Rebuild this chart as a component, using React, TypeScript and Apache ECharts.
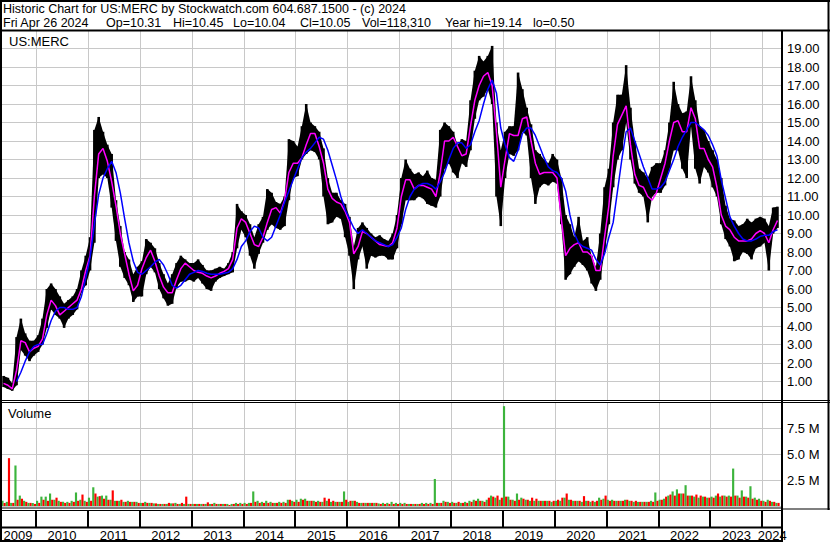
import { useEffect, useRef } from 'react';
import * as echarts from 'echarts';

// ---- time layout (fractional years) ----
const FIRST_YEAR = 2009;
const FIRST_MONTH = 5; // first monthly sample: May 2009
const X_MIN = 2009.306;
const X_MAX = 2024.379;

const yearLabels = ['2009', '2010', '2011', '2012', '2013', '2014', '2015', '2016', '2017', '2018', '2019', '2020', '2021', '2022', '2023', '2024'];
const yearBoundaries = [2010, 2011, 2012, 2013, 2014, 2015, 2016, 2017, 2018, 2019, 2020, 2021, 2022, 2023, 2024];

// ---- monthly high / low (USD) ----
const high = [
  1.3, 1.2, 0.9, 3.4, 4.4, 3.6, 3.2, 3.2, // 2009 May-Dec
  3.5, 4.4, 6.0, 6.3, 6.0, 5.6, 5.2, 5.4, 5.6, 6.0, 7.0, 7.8, // 2010
  8.8, 14.6, 15.3, 14.5, 13.8, 13.3, 10.8, 9.4, 8.0, 7.6, 6.8, 7.2, // 2011
  7.5, 8.7, 8.5, 8.2, 7.4, 6.8, 6.3, 6.8, 7.4, 7.8, 7.6, 7.4, // 2012
  7.4, 7.6, 7.3, 7.0, 7.0, 7.1, 7.2, 7.1, 7.4, 8.0, 10.6, 10.2, // 2013
  10.0, 9.5, 8.8, 9.5, 9.9, 11.4, 11.2, 10.7, 10.6, 11.0, 14.1, 14.0, // 2014
  13.7, 14.8, 16.0, 15.0, 14.8, 14.5, 13.6, 12.0, 11.2, 11.2, 10.8, 10.6, // 2015
  9.9, 8.3, 9.3, 9.6, 9.3, 9.0, 8.8, 8.9, 8.7, 8.6, 9.0, 10.0, // 2016
  12.0, 13.0, 12.5, 12.2, 12.3, 12.1, 12.4, 12.0, 11.9, 14.6, 15.0, 14.8, // 2017
  14.5, 13.8, 14.1, 14.0, 16.2, 17.8, 18.6, 18.3, 18.6, 19.14, 15.0, 13.5, // 2018
  14.5, 14.8, 14.8, 17.7, 16.8, 15.8, 14.9, 13.5, 13.3, 13.0, 12.8, 13.3, // 2019
  13.0, 12.0, 10.0, 9.5, 8.8, 9.9, 8.6, 8.8, 7.8, 7.2, 9.0, 11.5, // 2020
  12.5, 15.0, 16.5, 16.5, 18.1, 15.8, 14.0, 12.5, 12.3, 12.0, 12.6, 12.8, // 2021
  12.8, 13.5, 15.0, 17.2, 16.0, 15.5, 15.6, 17.5, 16.2, 14.8, 14.6, 14.0, // 2022
  13.5, 13.0, 12.0, 10.5, 9.8, 9.7, 9.4, 9.5, 9.8, 9.6, 9.8, 9.9, // 2023
  9.8, 9.4, 10.4, 10.45, // 2024 Jan-Apr
];
const low = [
  0.7, 0.6, 0.5, 0.8, 2.7, 2.4, 2.1, 2.4, // 2009
  2.6, 3.0, 3.9, 4.9, 4.6, 4.4, 3.9, 4.4, 4.6, 4.9, 5.8, 6.2, // 2010
  7.0, 8.5, 12.0, 12.2, 12.0, 10.4, 8.6, 7.2, 6.6, 6.2, 5.3, 5.6, // 2011
  5.6, 6.8, 7.2, 6.9, 6.0, 5.5, 5.1, 5.2, 6.1, 6.4, 6.4, 6.5, // 2012
  6.4, 6.6, 6.3, 6.0, 5.9, 6.4, 6.6, 6.7, 6.8, 6.9, 8.2, 9.2, // 2013
  8.8, 7.8, 7.1, 7.9, 8.5, 9.2, 9.5, 9.3, 9.2, 9.4, 10.8, 12.0, // 2014
  12.1, 13.0, 13.3, 13.5, 13.4, 13.0, 11.0, 9.5, 9.6, 9.9, 9.8, 8.8, // 2015
  7.8, 6.0, 7.6, 8.3, 7.1, 7.8, 7.7, 7.8, 7.8, 7.6, 7.6, 8.2, // 2016
  9.5, 10.8, 10.8, 10.8, 11.0, 10.9, 10.6, 10.5, 10.4, 11.0, 12.5, 12.8, // 2017
  12.3, 12.0, 12.8, 12.6, 13.5, 15.2, 16.2, 16.4, 16.8, 16.0, 11.0, 9.4, // 2018
  12.0, 13.3, 13.2, 13.5, 14.5, 14.3, 12.0, 10.6, 11.5, 11.7, 11.6, 11.8, // 2019
  11.7, 9.5, 6.5, 6.8, 7.2, 7.5, 7.3, 7.0, 6.3, 5.9, 6.5, 8.0, // 2020
  9.5, 11.5, 13.0, 13.5, 15.0, 13.0, 11.7, 11.2, 11.0, 9.6, 11.0, 11.2, // 2021
  11.2, 11.6, 12.5, 13.5, 13.5, 12.5, 12.0, 14.8, 12.5, 11.7, 12.6, 12.3, // 2022
  11.5, 11.0, 9.5, 8.7, 8.3, 7.5, 7.6, 8.0, 7.9, 7.6, 8.2, 8.3, // 2023
  8.5, 7.0, 9.0, 9.3, // 2024
];
// ---- moving averages ----
const maFast = [
  0.9, 0.8, 0.6, 1.6, 3.2, 3.1, 2.6, 2.8,
  2.9, 3.3, 4.6, 5.4, 5.1, 4.6, 4.8, 5.0, 5.2, 5.4, 6.0, 7.0,
  7.8, 11.0, 13.3, 13.6, 12.9, 11.8, 10.5, 9.0, 7.9, 6.8, 5.9, 6.2,
  7.1, 7.7, 8.1, 7.5, 6.7, 6.1, 5.8, 5.8, 6.5, 7.1, 7.4, 7.2,
  7.0, 6.9, 6.85, 6.7, 6.6, 6.7, 6.85, 6.95, 7.1, 7.6, 9.3, 9.8,
  9.6, 9.0, 8.4, 8.3, 8.8, 9.6, 10.3, 10.4, 10.1, 10.8, 12.3, 12.8,
  12.8, 13.1, 13.8, 14.4, 14.4, 13.7, 12.8, 11.4, 10.9, 10.7, 10.6, 10.2,
  9.6, 7.9, 8.3, 9.1, 9.0, 8.8, 8.6, 8.4, 8.35, 8.3, 8.5, 9.3,
  11.0, 11.9, 11.9, 11.4, 11.6, 11.6, 11.5, 11.4, 11.0, 12.3, 14.0, 14.0,
  14.2, 13.7, 13.2, 13.3, 14.8, 16.2, 17.0, 17.5, 17.7, 17.0, 14.5, 11.5,
  13.0, 14.4, 14.3, 14.3, 15.2, 15.3, 14.0, 12.8, 12.2, 12.3, 12.3, 12.3,
  12.0, 9.8, 7.8, 8.2, 8.4, 8.5, 8.0, 8.0, 7.8, 7.0, 7.0, 8.8,
  10.5, 13.2, 14.9, 15.4, 15.9, 13.8, 12.2, 11.6, 11.5, 11.0, 10.8, 11.2,
  12.0, 12.8, 14.0, 15.0, 15.1, 14.5, 14.5, 15.8, 15.2, 13.6, 13.6, 13.0,
  12.6, 11.5, 10.0, 9.4, 9.2, 8.8, 8.6, 8.6, 8.6, 8.7, 9.0, 9.15,
  9.0, 8.5, 9.2, 9.7,
];
const maSlow: (number | null)[] = [
  null, null, null, 1.0, 1.5, 2.1, 2.6, 2.9,
  3.0, 3.0, 3.6, 4.3, 4.8, 5.0, 5.0, 4.9, 4.9, 5.0, 5.6, 6.6,
  7.7, 9.5, 11.1, 12.0, 12.5, 12.9, 12.3, 11.2, 9.8, 8.5, 7.5, 6.9,
  6.8, 7.0, 7.2, 7.45, 7.6, 7.3, 6.8, 6.2, 6.05, 6.2, 6.5, 6.8,
  6.9, 7.0, 6.95, 6.85, 6.8, 6.8, 6.8, 6.85, 6.9, 7.1, 7.6, 8.3,
  8.6, 9.1, 9.4, 9.3, 8.8, 8.6, 8.8, 9.4, 10.0, 10.7, 11.3, 11.9,
  12.5, 13.1, 13.4, 13.6, 13.9, 14.2, 14.1, 13.5, 12.7, 11.9, 11.0, 10.3,
  9.8, 9.3, 9.0, 9.2, 9.0, 8.8, 8.6, 8.5, 8.4, 8.3, 8.4, 8.8,
  9.3, 10.3, 11.0, 11.4, 11.6, 11.7, 11.7, 11.6, 11.4, 11.8, 12.3, 13.0,
  13.6, 13.9, 13.9, 13.6, 13.8, 14.5, 15.1, 16.0, 16.8, 17.3, 16.6, 14.7,
  13.8, 13.1, 12.9, 13.5, 14.4, 14.7, 14.7, 14.3, 13.7, 13.1, 12.6, 12.4,
  12.3, 12.0, 11.3, 10.0, 9.0, 8.5, 8.3, 8.2, 8.1, 7.6, 7.3, 7.9,
  8.8, 9.6, 11.3, 13.0, 14.5, 14.7, 14.0, 13.3, 12.6, 12.0, 11.4, 11.4,
  11.5, 11.8, 12.4, 13.0, 13.7, 14.2, 14.6, 15.0, 15.0, 14.8, 14.6, 14.3,
  13.8, 13.2, 11.9, 10.9, 9.9, 9.4, 9.0, 8.7, 8.6, 8.6, 8.7, 8.85,
  8.9, 8.9, 9.1, 9.2,
];
// ---- volume, millions of shares (up-day and down-day spikes per month) ----
const volUp = [
  0.5, 0.4, 0.3, 3.9, 1.0, 0.5, 0.3, 0.3,
  0.5, 0.9, 0.9, 1.2, 0.6, 0.5, 0.4, 0.4, 0.5, 1.3, 0.6, 0.5,
  0.8, 1.8, 0.9, 1.0, 1.0, 0.6, 0.5, 0.5, 0.4, 0.5, 0.4, 0.4,
  0.3, 0.4, 0.3, 0.25, 0.2, 0.2, 0.2, 0.25, 0.3, 0.2, 0.2, 0.2,
  0.2, 0.2, 0.2, 0.2, 0.2, 0.3, 0.2, 0.2, 0.2, 0.2, 0.3, 0.3,
  0.3, 0.3, 1.4, 0.5, 0.4, 0.5, 0.4, 0.3, 0.4, 0.4, 0.6, 0.5,
  0.6, 0.7, 0.7, 0.5, 0.5, 0.5, 0.4, 0.5, 0.4, 0.4, 0.4, 1.4,
  0.4, 0.5, 0.4, 0.3, 0.3, 0.3, 0.3, 0.25, 0.3, 0.3, 0.4, 0.3,
  0.3, 0.3, 0.2, 0.2, 0.2, 0.3, 0.3, 0.3, 2.6, 0.3, 0.5, 0.4,
  0.4, 0.3, 0.3, 0.4, 0.5, 0.6, 0.7, 0.5, 0.6, 1.0, 0.8, 0.6,
  9.6, 0.9, 0.6, 1.2, 0.8, 0.6, 0.5, 0.5, 0.5, 0.5, 0.5, 0.4,
  0.5, 0.5, 0.8, 0.6, 0.5, 0.5, 0.4, 0.5, 0.4, 0.4, 0.8, 0.7,
  0.6, 0.6, 0.5, 0.5, 0.6, 0.5, 0.4, 0.4, 0.4, 0.4, 0.5, 1.3,
  0.6, 0.7, 1.0, 1.4, 1.6, 1.2, 2.0, 1.0, 0.9, 0.8, 0.9, 0.8,
  0.9, 1.0, 0.9, 1.0, 1.0, 3.6, 1.0, 1.5, 0.9, 1.9, 0.8, 0.7,
  0.5, 0.6, 0.4, 0.3,
];
const volDown = [
  0.3, 4.6, 0.3, 0.6, 0.7, 0.4, 0.3, 0.2,
  0.3, 0.6, 0.5, 0.6, 0.8, 0.4, 0.3, 0.3, 0.4, 0.5, 1.1, 0.4,
  0.5, 1.2, 0.95, 0.7, 0.6, 1.5, 0.5, 0.6, 0.4, 0.4, 0.4, 0.3,
  0.3, 0.3, 0.3, 0.25, 0.2, 0.2, 0.3, 0.25, 0.2, 0.3, 0.9, 0.2,
  0.2, 0.2, 0.2, 0.35, 0.2, 0.2, 0.2, 0.2, 0.1, 0.2, 0.2, 0.2,
  0.2, 0.3, 0.4, 0.3, 0.3, 0.3, 0.3, 0.3, 0.3, 0.3, 0.6, 0.4,
  0.4, 0.6, 0.5, 0.5, 0.4, 0.4, 0.8, 0.7, 0.5, 0.4, 0.4, 0.6,
  0.5, 0.5, 0.3, 0.3, 0.3, 0.3, 0.3, 0.2, 0.2, 0.2, 0.2, 0.2,
  0.2, 0.2, 0.2, 0.2, 0.2, 0.2, 0.2, 0.2, 0.3, 0.3, 0.4, 0.3,
  0.3, 0.4, 0.3, 0.3, 0.4, 0.5, 0.5, 0.4, 0.8, 0.9, 1.0, 0.8,
  0.9, 0.6, 0.5, 0.6, 0.7, 0.6, 0.8, 0.7, 0.5, 0.5, 0.5, 0.5,
  0.6, 0.8, 1.2, 0.6, 0.5, 0.5, 0.95, 0.5, 0.5, 0.5, 0.6, 1.0,
  0.5, 0.5, 0.5, 0.5, 0.6, 0.5, 0.5, 0.4, 0.4, 0.4, 0.4, 0.5,
  0.6, 0.9, 1.1, 1.0, 1.2, 1.2, 1.0, 1.0, 1.1, 1.0, 0.9, 0.8,
  0.8, 1.2, 1.0, 0.9, 0.9, 1.0, 0.8, 0.9, 0.8, 0.7, 0.6, 0.5,
  0.4, 0.5, 0.4, 0.3,
];

const headerLine1 = 'Historic Chart for US:MERC by Stockwatch.com 604.687.1500 - (c) 2024';
const headerLine2: [string, number][] = [
  ['Fri Apr 26 2024', 3], ['Op=10.31', 106], ['Hi=10.45', 173], ['Lo=10.04', 233],
  ['Cl=10.05', 300], ['Vol=118,310', 362], ['Year hi=19.14', 445], ['lo=0.50', 533],
];

const FONT = '"Liberation Sans", Arial, sans-serif';

function monthValue(i: number): number {
  const m = FIRST_MONTH - 1 + i;
  return FIRST_YEAR + Math.floor(m / 12) + ((m % 12) + 0.5) / 12;
}

function vLineItem(color: string, width: number) {
  return (params: any, api: any) => {
    const cs = params.coordSys;
    const p = api.coord([api.value(0), 0]);
    const x = Math.round(p[0]) + (width % 2 ? 0.5 : 0);
    return {
      type: 'line',
      shape: { x1: x, y1: cs.y, x2: x, y2: cs.y + cs.height },
      style: { stroke: color, lineWidth: width },
    };
  };
}

function hLine(x1: number, y: number, x2: number, w: number) {
  return { type: 'line', silent: true, z: 100, shape: { x1, y1: y, x2, y2: y }, style: { stroke: '#000', lineWidth: w } };
}
function vLine(x: number, y1: number, y2: number, w: number) {
  return { type: 'line', silent: true, z: 100, shape: { x1: x, y1, x2: x, y2 }, style: { stroke: '#000', lineWidth: w } };
}
function label(text: string, x: number, y: number, size = 13) {
  return {
    type: 'text', silent: true, z: 100, x, y,
    style: { text, fill: '#000', font: `${size}px ${FONT}`, align: 'left', verticalAlign: 'top', textAlign: 'left', textVerticalAlign: 'top' },
  };
}

export default function App() {
  const ref = useRef<HTMLDivElement>(null);
  useEffect(() => {
    if (!ref.current) return;
    const chart = echarts.init(ref.current, undefined, { renderer: 'svg' });

    const priceBars = high.map((h, i) => [monthValue(i), low[i], h]);
    const fastLine = maFast.map((v, i) => [monthValue(i), v]);
    const slowLine = maSlow.map((v, i) => (v == null ? null : [monthValue(i), v])).filter((d) => d != null);
    const volBars = volUp.map((u, i) => [monthValue(i), u, volDown[i]]);
    const boundaryData = yearBoundaries.map((y) => [y, 0]);
    const yearData = yearLabels.map((y) => [Number(y), 0]);
    const last = priceBars.length - 1;

    const xAxisBase = (gridIndex: number) => ({
      type: 'value', gridIndex, min: X_MIN, max: X_MAX, show: false, splitLine: { show: false },
    });

    const option: any = {
      animation: false,
      backgroundColor: '#fff',
      grid: [
        { left: 0, top: 30, width: 782, height: 370 },
        { left: 0, top: 402, width: 782, height: 104 },
        { left: 0, top: 510, width: 782, height: 17 },
        { left: 0, top: 528, width: 782, height: 13 },
      ],
      xAxis: [xAxisBase(0), xAxisBase(1), xAxisBase(2), xAxisBase(3)],
      yAxis: [
        {
          type: 'value', gridIndex: 0, min: 0, max: 20, interval: 1, position: 'right',
          axisLine: { show: false }, axisTick: { show: false },
          axisLabel: {
            margin: 5, fontSize: 13, fontFamily: FONT, color: '#000',
            formatter: (v: number) => (v >= 1 && v <= 19 ? v.toFixed(2) : ''),
          },
          splitLine: { lineStyle: { color: '#c8c8c8', width: 1 } },
        },
        {
          type: 'value', gridIndex: 1, min: 0, max: 10, interval: 2.5, position: 'right',
          axisLine: { show: false }, axisTick: { show: false },
          axisLabel: {
            margin: 5, fontSize: 13, fontFamily: FONT, color: '#000',
            formatter: (v: number) => (v > 0 && v < 10 ? v.toFixed(1) + ' M' : ''),
          },
          splitLine: { lineStyle: { color: '#c8c8c8', width: 1 } },
        },
        { type: 'value', gridIndex: 2, min: 0, max: 1, show: false, splitLine: { show: false } },
        { type: 'value', gridIndex: 3, min: 0, max: 1, show: false, splitLine: { show: false } },
      ],
      series: [
        // year gridlines
        { type: 'custom', xAxisIndex: 0, yAxisIndex: 0, z: 1, silent: true, data: boundaryData, encode: { x: 0, y: 1 }, renderItem: vLineItem('#c8c8c8', 1) },
        { type: 'custom', xAxisIndex: 1, yAxisIndex: 1, z: 1, silent: true, data: boundaryData, encode: { x: 0, y: 1 }, renderItem: vLineItem('#c8c8c8', 1) },
        { type: 'custom', xAxisIndex: 2, yAxisIndex: 2, z: 1, silent: true, data: boundaryData, encode: { x: 0, y: 1 }, renderItem: vLineItem('#000', 2) },
        // price range band (monthly high/low joined into a ribbon)
        {
          type: 'custom', name: 'Price', xAxisIndex: 0, yAxisIndex: 0, z: 2, clip: true,
          data: priceBars, encode: { x: 0, y: [1, 2] },
          renderItem: (params: any, api: any) => {
            const i = params.dataIndexInside;
            const x = api.value(0);
            const half = api.size([1 / 24, 0])[0];
            const a = api.coord([x, api.value(2)]);
            const b = api.coord([x, api.value(1)]);
            const children: any[] = [
              // the month's own range bar
              { type: 'rect', shape: { x: a[0] - half * 0.6, y: a[1], width: half * 1.2, height: Math.max(1, b[1] - a[1]) }, style: { fill: '#000' } },
            ];
            if (i < last) {
              const nx = api.value(0, i + 1);
              const c = api.coord([nx, api.value(2, i + 1)]);
              const d = api.coord([nx, api.value(1, i + 1)]);
              const mt = (a[1] + c[1]) / 2;
              const mb = (b[1] + d[1]) / 2;
              const lowTop = Math.max(a[1], c[1]);
              const highBot = Math.min(b[1], d[1]);
              children.push({
                type: 'polygon',
                shape: { points: [[a[0], a[1]], [c[0], c[1]], [c[0], d[1]], [a[0], b[1]]] },
                style: { fill: '#000' },
              });
              void mt; void mb; void lowTop; void highBot;
            }
            return { type: 'group', children };
          },
        },
        {
          type: 'line', name: 'MA fast', xAxisIndex: 0, yAxisIndex: 0, z: 3, data: fastLine,
          showSymbol: false, symbol: 'none', lineStyle: { color: '#ff00ff', width: 1.5 },
        },
        {
          type: 'line', name: 'MA slow', xAxisIndex: 0, yAxisIndex: 0, z: 4, data: slowLine,
          showSymbol: false, symbol: 'none', lineStyle: { color: '#0000ff', width: 1.5 },
        },
        // volume
        {
          type: 'custom', name: 'Volume', xAxisIndex: 1, yAxisIndex: 1, z: 2, clip: true,
          data: volBars, encode: { x: 0, y: [1, 2] },
          renderItem: (params: any, api: any) => {
            const x = api.value(0);
            const base = api.coord([x, 0]);
            const up = api.coord([x, api.value(1)]);
            const dn = api.coord([x, api.value(2)]);
            const w = api.size([1 / 12, 0])[0] / 2;
            return {
              type: 'group',
              children: [
                { type: 'rect', shape: { x: base[0] - w, y: up[1], width: w, height: base[1] - up[1] }, style: { fill: '#3cb43c' } },
                { type: 'rect', shape: { x: base[0], y: dn[1], width: w, height: base[1] - dn[1] }, style: { fill: '#ff0000' } },
              ],
            };
          },
        },
        // year labels
        {
          type: 'custom', xAxisIndex: 3, yAxisIndex: 3, z: 5, silent: true,
          data: yearData, encode: { x: 0, y: 1 },
          renderItem: (params: any, api: any) => {
            const cs = params.coordSys;
            const y0 = api.value(0);
            const s = api.coord([Math.max(y0, X_MIN), 0])[0];
            const e = api.coord([Math.min(y0 + 1, X_MAX), 0])[0];
            return {
              type: 'text', x: (s + e) / 2, y: cs.y + cs.height / 2 + 0.5,
              style: {
                text: String(y0), fill: '#000', font: `13px ${FONT}`,
                align: 'center', verticalAlign: 'middle', textAlign: 'center', textVerticalAlign: 'middle',
              },
            };
          },
        },
      ],
      graphic: [
        label(headerLine1, 3, 2, 12.5),
        ...headerLine2.map(([t, x]) => label(t, x, 16, 12.5)),
        label('US:MERC', 9, 35),
        label('Volume', 8, 407),
        hLine(0, 1, 830, 2),
        vLine(1, 0, 542, 2),
        hLine(0, 30.5, 830, 2),
        vLine(828.5, 0, 510, 2),
        vLine(782, 30, 542, 2),
        hLine(0, 400.5, 830, 1),
        hLine(0, 402.5, 830, 1),
        hLine(0, 508, 782, 1.2),
        hLine(0, 510.5, 782, 1.2),
        hLine(782, 509, 830, 1.2),
        hLine(0, 527.5, 782, 2),
        hLine(0, 541, 782, 2),
      ],
    };
    chart.setOption(option);
    return () => chart.dispose();
  }, []);
  return <div ref={ref} style={{ position: 'absolute', left: 0, top: 0, width: 830, height: 543, background: '#fff' }} />;
}
